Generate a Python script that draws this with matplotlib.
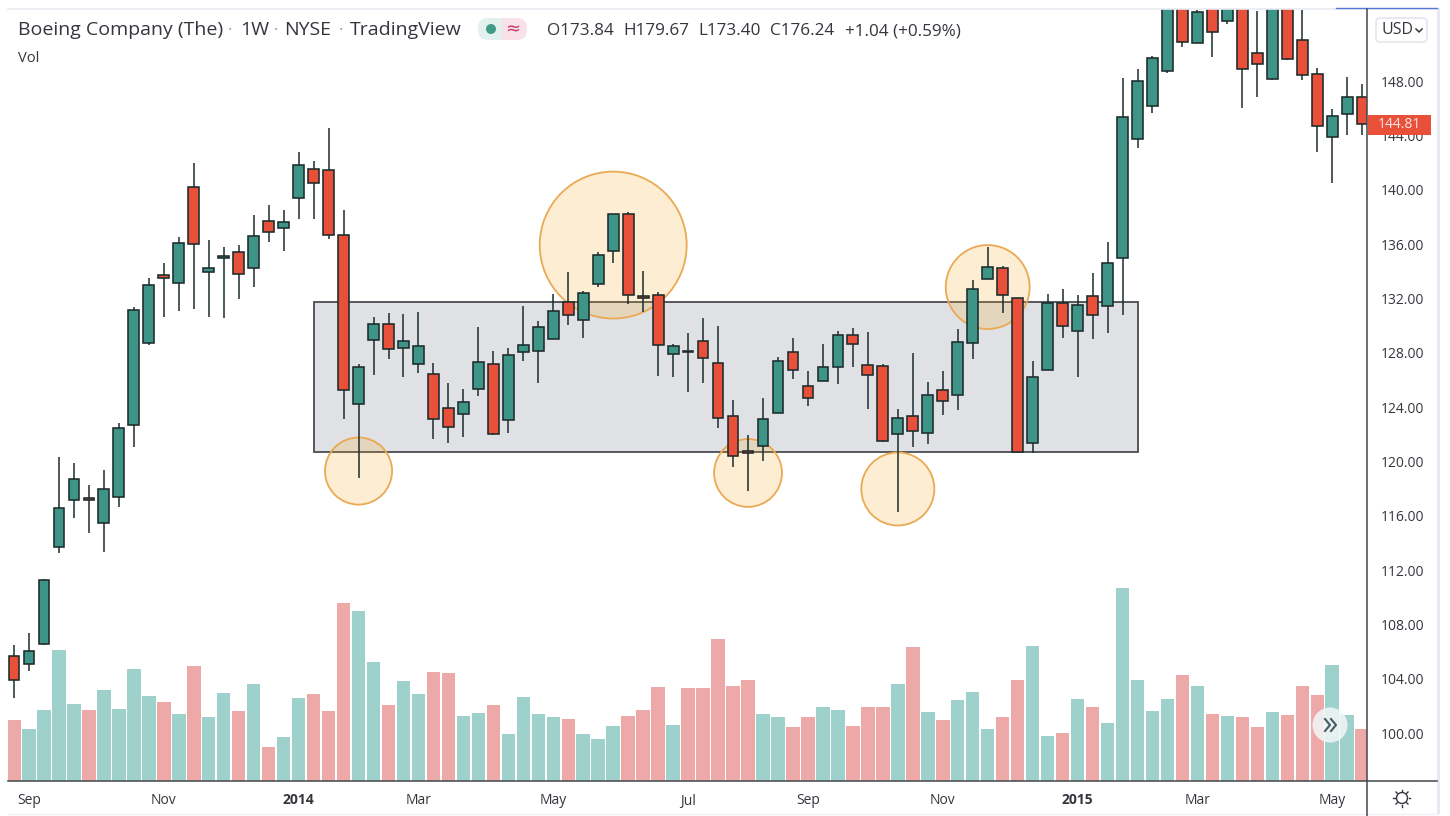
#!/usr/bin/env python3
"""Boeing weekly candles with volume, range box and highlighted touches."""

import matplotlib
matplotlib.use('Agg')
import matplotlib.pyplot as plt
from matplotlib.patches import Ellipse, Rectangle, FancyBboxPatch, Circle

opens = [105.67, 105.08, 106.56, 113.70, 117.16, 117.31, 115.47, 117.38, 122.68, 128.72,
         133.73, 133.14, 140.21, 133.95, 134.98, 135.42, 134.24, 137.71, 137.19, 139.40,
         141.54, 141.46, 136.67, 124.23, 128.94, 130.12, 128.35, 127.17, 126.44, 123.94,
         123.49, 125.33, 127.18, 123.05, 128.06, 128.13, 129.02, 131.74, 130.42, 133.07,
         135.50, 138.22, 132.15, 132.26, 127.91, 128.10, 128.87, 127.25, 123.35, 120.73,
         121.14, 123.57, 128.06, 125.55, 125.92, 126.95, 129.31, 127.10, 127.03, 122.02,
         123.35, 122.09, 125.26, 124.89, 128.72, 133.43, 134.24, 132.04, 121.36, 126.73,
         131.67, 129.60, 132.18, 131.45, 134.98, 143.74, 146.17, 148.75, 155.50, 150.81,
         155.00, 152.43, 155.00, 150.08, 148.16, 155.00, 151.03, 148.53, 143.89, 145.59,
         146.84]
highs = [106.48, 107.37, 111.34, 120.33, 119.88, 118.27, 119.37, 122.83, 131.37, 133.51,
         134.61, 136.53, 141.98, 136.31, 135.79, 135.94, 138.15, 138.88, 138.52, 142.79,
         142.12, 144.55, 138.52, 127.18, 130.64, 130.93, 130.86, 131.00, 127.25, 125.78,
         125.33, 129.90, 128.13, 128.35, 131.45, 130.34, 132.33, 133.95, 132.55, 135.42,
         138.22, 138.37, 134.02, 132.48, 128.65, 129.46, 130.56, 129.97, 124.52, 121.95,
         124.67, 127.69, 129.09, 126.66, 128.65, 129.63, 129.83, 129.53, 127.18, 123.86,
         127.99, 125.85, 126.66, 129.75, 133.36, 135.79, 134.39, 132.04, 127.40, 132.33,
         132.70, 132.26, 133.88, 136.16, 148.24, 148.90, 149.86, 155.50, 156.20, 153.24,
         156.00, 156.00, 156.00, 153.17, 156.50, 156.00, 153.24, 148.97, 145.95, 148.31,
         147.79]
lows = [102.58, 104.57, 106.48, 113.26, 115.83, 114.73, 113.33, 116.64, 121.06, 128.57,
        130.64, 131.08, 131.23, 130.64, 130.56, 131.96, 132.85, 136.16, 135.50, 137.85,
        137.85, 136.38, 123.12, 118.78, 126.36, 127.54, 126.22, 126.51, 121.65, 121.36,
        121.80, 124.82, 121.95, 122.09, 127.40, 125.78, 129.02, 130.05, 129.09, 132.85,
        134.61, 131.59, 131.00, 126.29, 126.22, 125.11, 125.78, 122.46, 119.59, 117.82,
        120.03, 123.57, 126.07, 124.08, 125.92, 125.70, 126.95, 123.86, 121.43, 116.28,
        121.06, 121.28, 123.42, 123.79, 127.54, 133.43, 130.93, 120.62, 120.62, 126.73,
        129.09, 126.22, 129.02, 129.46, 130.78, 143.08, 145.66, 148.60, 150.52, 150.81,
        149.78, 152.21, 146.03, 146.84, 148.10, 149.56, 148.09, 142.79, 140.50, 144.04,
        144.04]
closes = [103.90, 106.04, 111.27, 116.57, 118.71, 117.16, 117.97, 122.46, 131.15, 132.99,
          133.51, 136.09, 136.01, 134.24, 135.13, 133.80, 136.60, 136.90, 137.63, 141.83,
          140.50, 136.67, 125.26, 126.95, 130.12, 128.28, 128.87, 128.50, 123.12, 122.54,
          124.38, 127.32, 122.02, 127.84, 128.57, 129.90, 131.08, 130.78, 132.40, 135.20,
          138.22, 132.26, 132.03, 128.57, 128.50, 128.02, 127.62, 123.20, 120.40, 120.62,
          123.12, 127.40, 126.73, 124.67, 126.95, 129.31, 128.65, 126.36, 121.50, 123.20,
          122.24, 124.89, 124.45, 128.80, 132.70, 134.32, 132.26, 120.69, 126.22, 131.67,
          129.97, 131.52, 130.78, 134.61, 145.36, 148.02, 149.71, 155.00, 150.89, 153.10,
          151.62, 155.80, 148.90, 149.27, 155.50, 149.64, 148.46, 144.70, 145.44, 146.84,
          144.81]
volumes = [6.10, 5.23, 7.13, 13.10, 7.70, 7.13, 9.07, 7.20, 11.20, 8.50,
           7.93, 6.70, 11.50, 6.40, 8.80, 7.00, 9.70, 3.37, 4.37, 8.30,
           8.67, 7.00, 17.80, 17.00, 11.93, 7.57, 10.03, 8.67, 10.87, 10.77,
           6.53, 6.77, 7.57, 4.73, 8.43, 6.67, 6.43, 6.20, 4.67, 4.23,
           5.47, 6.53, 7.07, 9.43, 5.60, 9.33, 9.27, 14.17, 9.53, 10.10,
           6.70, 6.40, 5.40, 6.40, 7.43, 7.07, 5.53, 7.43, 7.40, 9.67,
           13.37, 6.90, 6.10, 8.10, 8.87, 5.17, 6.40, 10.10, 13.53, 4.53,
           4.77, 8.23, 7.37, 5.77, 19.27, 10.13, 7.00, 8.17, 10.57, 9.53,
           6.70, 6.53, 6.40, 5.40, 6.87, 6.57, 9.50, 8.60, 11.57, 6.63,
           5.17]

date_idx = [1, 10, 19, 27, 36, 45, 53, 62, 71, 79, 88]
date_labels = ['Sep', 'Nov', '2014', 'Mar', 'May', 'Jul', 'Sep', 'Nov', '2015', 'Mar', 'May']
bold_labels = ['2014', '2015']
price_ticks = [100, 104, 108, 112, 116, 120, 124, 128, 132, 136, 140, 144, 148]
last_price = 144.81

# range box and highlighted touches
box_idx = [20.0, 75.05]
box_price = [120.72, 131.75]
circle_idx = [23.0, 40.0, 49.0, 59.0, 65.0]
circle_price = [119.29, 135.93, 119.15, 117.97, 132.84]
circle_radius = [2.47, 5.41, 2.5, 2.69, 3.09]

W, H = 1450, 816
PX_X = 14.98   # pixels per bar
PX_Y = 13.58   # pixels per dollar
GREEN, RED = '#3e9587', '#e8503a'
VOL_GREEN, VOL_RED = '#9fd1cc', '#eda9a8'
EDGE = '#1c2b2b'
TEXT = '#33363d'
FONT = ['Open Sans', 'DejaVu Sans']

plt.rcParams['font.family'] = FONT

fig = plt.figure(figsize=(W / 100, H / 100), dpi=100)
left, right, top, bottom = 8, 1367, 9, 781
ax = fig.add_axes([left / W, 1 - bottom / H, (right - left) / W, (bottom - top) / H])
ax.set_xlim((left - 14) / PX_X, (right - 14) / PX_X)
ax.set_ylim(100 - (bottom - 733) / PX_Y, 100 + (733 - top) / PX_Y)

# volume shares the x axis, drawn underneath the candles
vax = ax.twinx()
vax.set_ylim(0, (bottom - top) / 10)
vax.set_zorder(0)
ax.set_zorder(1)
ax.patch.set_visible(False)
vax.axis('off')

n = len(closes)
xs = list(range(n))
is_up = [c >= o for o, c in zip(opens, closes)]
vax.bar(xs, volumes, width=0.9, color=[VOL_GREEN if u else VOL_RED for u in is_up], linewidth=0)

ax.add_patch(Rectangle((box_idx[0], box_price[0]), box_idx[1] - box_idx[0], box_price[1] - box_price[0],
                       facecolor='#e0e1e4', edgecolor='#4a4c50', linewidth=1.3, zorder=1))

for cx, cy, r in zip(circle_idx, circle_price, circle_radius):
    w = 2 * r * PX_Y / PX_X
    ax.add_patch(Ellipse((cx, cy), w, 2 * r, facecolor=(0.96, 0.65, 0.14, 0.2),
                         edgecolor='#eaa953', linewidth=1.3, zorder=2))

ax.vlines(xs, lows, highs, color=EDGE, linewidth=1.1, zorder=3)
for x, o, c, u in zip(xs, opens, closes, is_up):
    ax.bar(x, abs(c - o), bottom=min(o, c), width=0.72, color=GREEN if u else RED,
           edgecolor=EDGE, linewidth=1.15, zorder=4)

for s in ax.spines.values():
    s.set_visible(False)
ax.yaxis.tick_right()
ax.set_yticks(price_ticks)
ax.set_yticklabels([f'{p:.2f}' for p in price_ticks], fontsize=10, color=TEXT)
ax.tick_params(axis='y', length=0, pad=10)
ax.set_xticks(date_idx)
ax.set_xticklabels(date_labels, fontsize=10, color=TEXT)
ax.tick_params(axis='x', length=0, pad=9)
for lab in ax.get_xticklabels():
    if lab.get_text() in bold_labels:
        lab.set_fontweight('bold')

# page furniture in figure pixels
ui = fig.add_axes([0, 0, 1, 1], zorder=5)
ui.set_xlim(0, W)
ui.set_ylim(H, 0)
ui.axis('off')
ui.plot([8, 1437], [8.5, 8.5], color='#e9ebf2', lw=1.2)
ui.plot([1336, 1437], [7.5, 7.5], color='#5a78d8', lw=1.0)
ui.plot([8, 1437], [814, 814], color='#eff1f5', lw=1.0)
ui.add_patch(Rectangle((1437, 8), 3, 806, facecolor='#e6e9f2', edgecolor='none'))
ui.plot([right, right], [9, 816], color='#43464c', lw=1.1)
ui.plot([8, 1437], [bottom, bottom], color='#43464c', lw=1.1)

ui.text(18, 30, 'Boeing Company (The)', fontsize=14, color=TEXT, va='center')
ui.text(230, 31, '·', fontsize=12, color='#9a9da5', va='center', ha='center')
ui.text(240, 30, '1W', fontsize=14, color=TEXT, va='center')
ui.text(276, 31, '·', fontsize=12, color='#9a9da5', va='center', ha='center')
ui.text(284, 30, 'NYSE', fontsize=14, color=TEXT, va='center')
ui.text(341, 31, '·', fontsize=12, color='#9a9da5', va='center', ha='center')
ui.text(350, 30, 'TradingView', fontsize=14, color=TEXT, va='center')
ui.text(18, 59, 'Vol', fontsize=10.5, color=TEXT, va='center')

ui.add_patch(FancyBboxPatch((478, 18), 37, 22, boxstyle='round,pad=0,rounding_size=10',
                            facecolor='#e3f1ee', edgecolor='none'))
ui.add_patch(FancyBboxPatch((490, 18), 37, 22, boxstyle='round,pad=0,rounding_size=10',
                            facecolor='#f9e1e8', edgecolor='none'))
ui.add_patch(Rectangle((488, 18), 14, 22, facecolor='#e3f1ee', edgecolor='none'))
ui.add_patch(Circle((491, 29), 5, facecolor='#3f9b85', edgecolor='none'))
ui.text(513, 29.5, '≈', fontsize=13, color='#c2386a', ha='center', va='center', family='DejaVu Sans')

ohlc_x = [547, 623, 698, 770, 845]
ohlc_text = ['O173.84', 'H179.67', 'L173.40', 'C176.24', '+1.04 (+0.59%)']
for x, t in zip(ohlc_x, ohlc_text):
    ui.text(x, 31, t, fontsize=12.3, color=TEXT, va='center')

ui.add_patch(FancyBboxPatch((1376, 18), 51, 24, boxstyle='round,pad=0,rounding_size=4',
                            facecolor='white', edgecolor='#e4e6ec', linewidth=1.2))
ui.text(1382, 30, 'USD', fontsize=11.5, color=TEXT, va='center')
ui.plot([1416, 1419, 1422], [29, 32, 29], color=TEXT, lw=1.1)

ui.add_patch(Rectangle((1368, 115), 63, 20, facecolor='#e8503a', edgecolor='none'))
ui.text(1399.5, 125, f'{last_price:.2f}', fontsize=10, color='#fbe6e2', ha='center', va='center')

ui.add_patch(Circle((1330, 725), 17.5, facecolor=(0.95, 0.97, 0.97, 0.85), edgecolor='none'))
ui.plot([1325, 1330, 1325], [719, 725, 731], color='#4a5a62', lw=1.5)
ui.plot([1331, 1336, 1331], [719, 725, 731], color='#4a5a62', lw=1.5)

ui.add_patch(Circle((1402, 798), 5.5, facecolor='none', edgecolor=TEXT, lw=1.0))
for dx, dy in [(0, -8.5), (0, 8.5), (-8.5, 0), (8.5, 0), (6, -6), (-6, -6), (6, 6), (-6, 6)]:
    ui.plot([1402 + dx * 0.8, 1402 + dx], [798 + dy * 0.8, 798 + dy], color=TEXT, lw=1.0)

plt.savefig('out.png', dpi=100)
plt.close()
